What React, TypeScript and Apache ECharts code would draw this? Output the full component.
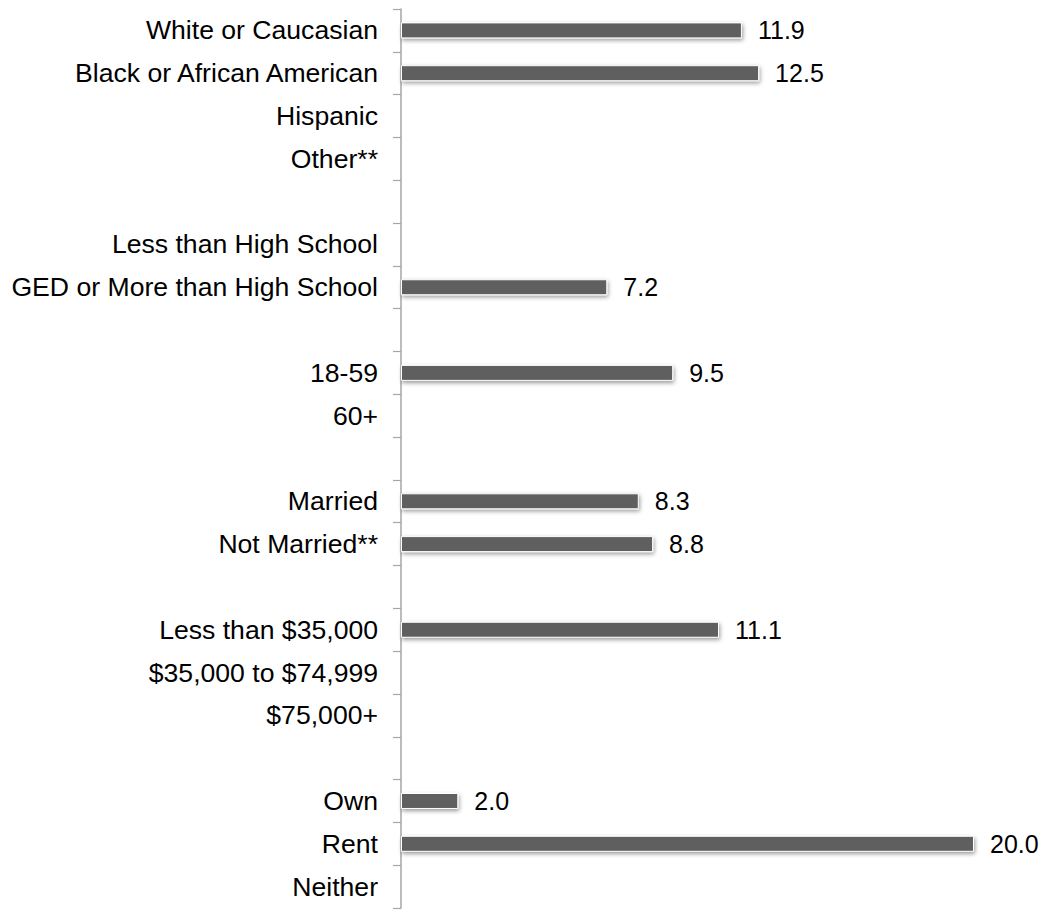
import React, { useEffect, useRef } from "react";
import * as echarts from "echarts";

const categories: string[] = [
  "White or Caucasian",
  "Black or African American",
  "Hispanic",
  "Other**",
  "",
  "Less than High School",
  "GED or More than High School",
  "",
  "18-59",
  "60+",
  "",
  "Married",
  "Not Married**",
  "",
  "Less than $35,000",
  "$35,000 to $74,999",
  "$75,000+",
  "",
  "Own",
  "Rent",
  "Neither",
];

const values: (number | null)[] = [
  11.9, 12.5, null, null, null,
  null, 7.2, null,
  9.5, null, null,
  8.3, 8.8, null,
  11.1, null, null, null,
  2.0, 20.0, null,
];

const xMin = 0;
const xMax = 21.85;

export default function App() {
  const ref = useRef<HTMLDivElement>(null);
  useEffect(() => {
    if (!ref.current) return;
    const chart = echarts.init(ref.current, undefined, { renderer: "svg" });
    chart.setOption({
      animation: false,
      backgroundColor: "#ffffff",
      grid: { left: 401, top: 9, right: 19, height: 899, containLabel: false },
      xAxis: {
        type: "value",
        min: xMin,
        max: xMax,
        show: false,
      },
      yAxis: {
        type: "category",
        inverse: true,
        data: categories,
        axisLine: { show: true, lineStyle: { color: "#a6a6a6", width: 1.5 } },
        axisTick: { show: true, length: 8, lineStyle: { color: "#a6a6a6", width: 1.2 } },
        axisLabel: {
          margin: 23,
          fontSize: 26.6,
          fontFamily: "'Liberation Sans', Arial, sans-serif",
          color: "#000",
          interval: 0,
        },
        splitLine: { show: false },
      },
      series: [
        {
          type: "bar",
          data: values,
          barWidth: 16,
          itemStyle: {
            color: "#5f5f5f",
            borderColor: "#ffffff",
            borderWidth: 1,
            shadowColor: "rgba(0,0,0,0.4)",
            shadowBlur: 4,
            shadowOffsetX: 1,
            shadowOffsetY: 2,
          },
          label: {
            show: true,
            position: "right",
            distance: 16,
            fontSize: 25,
            fontFamily: "'Liberation Sans', Arial, sans-serif",
            color: "#000",
            formatter: (p: any) => (p.value == null ? "" : Number(p.value).toFixed(1)),
          },
        },
      ],
    });
    return () => chart.dispose();
  }, []);
  return (
    <div
      ref={ref}
      style={{ position: "fixed", left: 0, top: 0, width: 1046, height: 910 }}
    />
  );
}
